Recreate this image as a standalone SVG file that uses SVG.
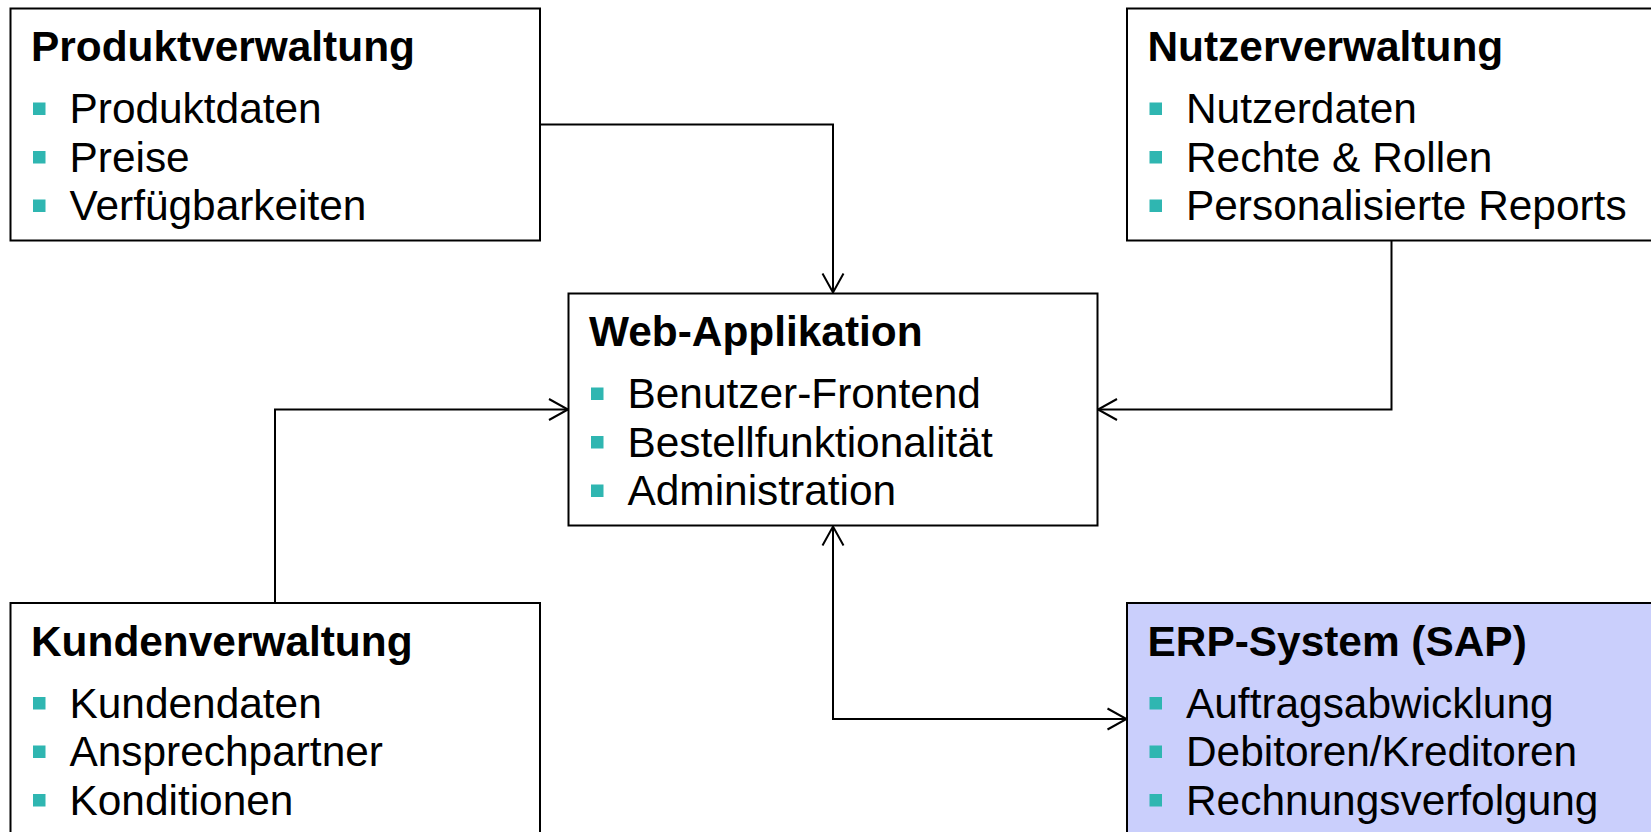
<svg xmlns="http://www.w3.org/2000/svg" width="1651" height="832" viewBox="0 0 1651 832">
  <defs>
    <style>
      .box { fill: #ffffff; stroke: #000000; stroke-width: 2; }
      .box.erp { fill: #cacffc; }
      .title { font-family: "Liberation Sans", Arial, sans-serif; font-weight: bold; font-size: 42.4px; fill: #000000; }
      .item { font-family: "Liberation Sans", Arial, sans-serif; font-size: 42.4px; fill: #000000; }
      .bullet { fill: #2fb6b1; }
      .link { fill: none; stroke: #000000; stroke-width: 2; }
    </style>
    <marker id="arrow" markerUnits="userSpaceOnUse" markerWidth="24" markerHeight="26" viewBox="-21 -12 24 24" refX="0" refY="0" orient="auto-start-reverse">
      <path d="M-19,-10.5 L0,0 L-19,10.5" fill="none" stroke="#000000" stroke-width="2"/>
    </marker>
  </defs>

  <rect width="1651" height="832" fill="#ffffff"/>

  <!-- connectors -->
  <g id="connectors">
    <path class="link" d="M540,124.5 H833 V292.5" marker-end="url(#arrow)"/>
    <path class="link" d="M1391.5,240.5 V409.5 H1098" marker-end="url(#arrow)"/>
    <path class="link" d="M275,603 V409.5 H568" marker-end="url(#arrow)"/>
    <path class="link" d="M833,526.5 V719 H1126.5" marker-start="url(#arrow)" marker-end="url(#arrow)"/>
  </g>

  <!-- Produktverwaltung -->
  <g id="produktverwaltung">
    <rect class="box" x="10.5" y="8.5" width="529.5" height="232"/>
    <text class="title" x="31" y="61">Produktverwaltung</text>
    <rect class="bullet" x="33" y="102.5" width="12.5" height="12.5"/>
    <text class="item" x="69.5" y="123">Produktdaten</text>
    <rect class="bullet" x="33" y="151" width="12.5" height="12.5"/>
    <text class="item" x="69.5" y="171.5">Preise</text>
    <rect class="bullet" x="33" y="199.5" width="12.5" height="12.5"/>
    <text class="item" x="69.5" y="220">Verfügbarkeiten</text>
  </g>

  <!-- Nutzerverwaltung -->
  <g id="nutzerverwaltung">
    <rect class="box" x="1127" y="8.5" width="529" height="232"/>
    <text class="title" x="1147.5" y="61">Nutzerverwaltung</text>
    <rect class="bullet" x="1149.5" y="102.5" width="12.5" height="12.5"/>
    <text class="item" x="1186" y="123">Nutzerdaten</text>
    <rect class="bullet" x="1149.5" y="151" width="12.5" height="12.5"/>
    <text class="item" x="1186" y="171.5">Rechte &amp; Rollen</text>
    <rect class="bullet" x="1149.5" y="199.5" width="12.5" height="12.5"/>
    <text class="item" x="1186" y="220">Personalisierte Reports</text>
  </g>

  <!-- Web-Applikation -->
  <g id="web-applikation">
    <rect class="box" x="568.5" y="293.5" width="529" height="232"/>
    <text class="title" x="589" y="346">Web-Applikation</text>
    <rect class="bullet" x="591" y="387.5" width="12.5" height="12.5"/>
    <text class="item" x="627.5" y="408">Benutzer-Frontend</text>
    <rect class="bullet" x="591" y="436" width="12.5" height="12.5"/>
    <text class="item" x="627.5" y="456.5">Bestellfunktionalität</text>
    <rect class="bullet" x="591" y="484.5" width="12.5" height="12.5"/>
    <text class="item" x="627.5" y="505">Administration</text>
  </g>

  <!-- Kundenverwaltung -->
  <g id="kundenverwaltung">
    <rect class="box" x="10.5" y="603" width="529.5" height="240"/>
    <text class="title" x="31" y="655.5">Kundenverwaltung</text>
    <rect class="bullet" x="33" y="697" width="12.5" height="12.5"/>
    <text class="item" x="69.5" y="717.5">Kundendaten</text>
    <rect class="bullet" x="33" y="745.5" width="12.5" height="12.5"/>
    <text class="item" x="69.5" y="766">Ansprechpartner</text>
    <rect class="bullet" x="33" y="794" width="12.5" height="12.5"/>
    <text class="item" x="69.5" y="814.5">Konditionen</text>
  </g>

  <!-- ERP-System (SAP) -->
  <g id="erp-system">
    <rect class="box erp" x="1127" y="603" width="529" height="240"/>
    <text class="title" x="1147.5" y="655.5">ERP-System (SAP)</text>
    <rect class="bullet" x="1149.5" y="697" width="12.5" height="12.5"/>
    <text class="item" x="1186" y="717.5">Auftragsabwicklung</text>
    <rect class="bullet" x="1149.5" y="745.5" width="12.5" height="12.5"/>
    <text class="item" x="1186" y="766">Debitoren/Kreditoren</text>
    <rect class="bullet" x="1149.5" y="794" width="12.5" height="12.5"/>
    <text class="item" x="1186" y="814.5">Rechnungsverfolgung</text>
  </g>
</svg>
